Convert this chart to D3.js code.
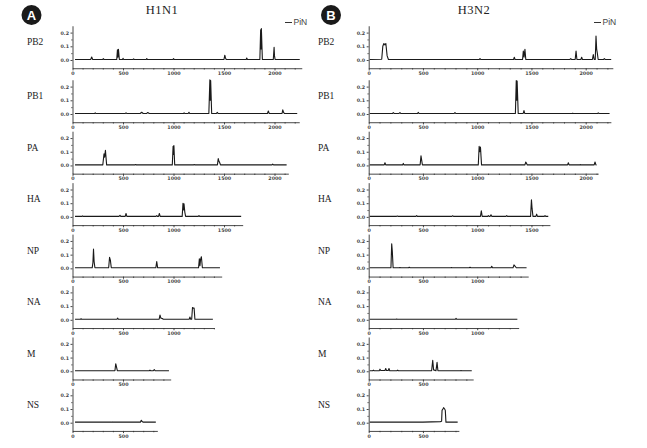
<!DOCTYPE html>
<html>
<head>
<meta charset="utf-8">
<script src="https://cdn.jsdelivr.net/npm/d3@7"></script>
<style>
  body { margin: 0; background: #fff; }
  svg { display: block; }
</style>
</head>
<body>
<svg id="chart" width="647" height="448"></svg>
<script>
// ---------- DATA ----------
const genes = ["PB2", "PB1", "PA", "HA", "NP", "NA", "M", "NS"];
const yTicks = [0, 0.1, 0.2];
const xTickStep = 500;
const xMinorStep = 100;
const legendLabel = "PiN";
const panelTitles = ["H1N1", "H3N2"];
const panelBadges = ["A", "B"];

// segment lengths (x-axis extent) per gene
const h1n1Lengths = [2270, 2245, 2137, 1685, 1477, 1404, 972, 840];
const h3n2Lengths = [2250, 2232, 2115, 1670, 1470, 1382, 963, 831];

// [nucleotide position, PiN value]
const h1n1PB2 = [[25,.004],[180,.004],[190,.022],[200,.004],[300,.004],[305,.01],[312,.004],[438,.004],[445,.075],[450,.02],[455,.078],[464,.004],[495,.004],[500,.012],[507,.004],[600,.004],[605,.008],[612,.004],[730,.004],[735,.01],[742,.004],[995,.004],[1000,.01],[1007,.004],[1500,.004],[1508,.035],[1515,.015],[1522,.004],[1720,.004],[1725,.015],[1732,.004],[1855,.004],[1863,.22],[1867,.08],[1870,.23],[1880,.004],[1988,.004],[1996,.093],[2000,.03],[2006,.004],[2250,.004]];
const h1n1PB1 = [[25,.004],[220,.004],[225,.008],[232,.004],[520,.004],[530,.008],[540,.004],[670,.004],[685,.013],[700,.004],[735,.004],[745,.011],[760,.004],[1100,.004],[1105,.008],[1112,.004],[1145,.004],[1153,.013],[1160,.004],[1350,.004],[1360,.25],[1364,.1],[1368,.245],[1378,.004],[1425,.004],[1434,.012],[1442,.004],[1930,.004],[1939,.022],[1948,.004],[2075,.004],[2082,.03],[2090,.012],[2098,.004],[2225,.004]];
const h1n1PA = [[25,.004],[300,.004],[312,.085],[318,.06],[326,.11],[338,.004],[620,.004],[625,.007],[632,.004],[988,.004],[996,.14],[1000,.08],[1004,.145],[1012,.004],[1200,.004],[1205,.007],[1212,.004],[1435,.004],[1443,.05],[1450,.03],[1458,.02],[1465,.004],[1975,.004],[1982,.01],[1990,.004],[2120,.004]];
const h1n1HA = [[25,.004],[95,.004],[100,.007],[105,.004],[460,.004],[470,.012],[478,.004],[522,.004],[530,.025],[538,.004],[826,.004],[834,.01],[840,.004],[852,.004],[860,.025],[868,.004],[1086,.004],[1094,.1],[1099,.05],[1104,.095],[1112,.035],[1120,.004],[1245,.004],[1252,.01],[1259,.004],[1670,.004]];
const h1n1NP = [[25,.004],[195,.004],[202,.04],[208,.14],[214,.05],[222,.004],[358,.004],[367,.08],[375,.06],[384,.004],[825,.004],[834,.05],[843,.004],[1248,.004],[1256,.07],[1262,.02],[1268,.065],[1276,.085],[1286,.004],[1460,.004]];
const h1n1NA = [[25,.004],[80,.004],[84,.008],[90,.004],[440,.004],[447,.012],[454,.004],[858,.004],[866,.035],[875,.012],[889,.01],[898,.004],[1155,.004],[1163,.02],[1170,.004],[1180,.004],[1188,.09],[1196,.085],[1204,.085],[1212,.004],[1390,.004]];
const h1n1M = [[25,.004],[420,.004],[428,.055],[436,.03],[444,.004],[760,.004],[767,.008],[774,.004],[800,.004],[810,.012],[818,.004],[955,.004]];
const h1n1NS = [[25,.004],[130,.004],[135,.005],[140,.004],[388,.004],[394,.006],[400,.004],[672,.004],[681,.018],[690,.008],[700,.004],[825,.004]];

const h3n2PB2 = [[10,.004],[120,.006],[130,.1],[140,.12],[150,.11],[158,.12],[170,.03],[182,.004],[1020,.004],[1026,.01],[1032,.004],[1335,.004],[1342,.02],[1349,.004],[1418,.004],[1425,.065],[1432,.02],[1440,.078],[1448,.004],[1855,.004],[1862,.01],[1869,.004],[1903,.004],[1911,.065],[1919,.004],[1955,.004],[1963,.02],[1970,.004],[2062,.004],[2070,.04],[2078,.004],[2088,.004],[2095,.175],[2101,.08],[2107,.05],[2115,.004],[2165,.004],[2172,.01],[2179,.004],[2235,.004]];
const h3n2PB1 = [[10,.004],[220,.004],[227,.01],[234,.004],[280,.004],[288,.01],[295,.004],[450,.004],[457,.012],[464,.004],[788,.004],[795,.01],[802,.004],[1352,.004],[1360,.245],[1364,.1],[1368,.24],[1378,.004],[1424,.004],[1431,.025],[1438,.004],[1873,.004],[1880,.006],[1887,.004],[2109,.004],[2116,.008],[2123,.004],[2220,.004]];
const h3n2PA = [[10,.004],[143,.004],[150,.02],[157,.004],[312,.004],[319,.015],[326,.004],[474,.004],[482,.07],[488,.04],[495,.004],[1010,.004],[1018,.14],[1024,.1],[1030,.135],[1040,.004],[1440,.004],[1447,.025],[1455,.015],[1462,.004],[1833,.004],[1840,.02],[1847,.004],[1943,.004],[1950,.006],[1957,.004],[2078,.004],[2086,.025],[2094,.004],[2100,.004]];
const h3n2HA = [[10,.004],[257,.004],[264,.006],[271,.004],[435,.004],[442,.01],[449,.004],[767,.004],[774,.008],[781,.004],[1030,.004],[1038,.045],[1046,.004],[1096,.004],[1103,.01],[1110,.004],[1120,.004],[1127,.015],[1134,.004],[1265,.004],[1272,.01],[1279,.004],[1492,.004],[1500,.125],[1506,.06],[1514,.004],[1541,.004],[1548,.02],[1555,.004],[1618,.004],[1625,.01],[1632,.004],[1655,.004]];
const h3n2NP = [[10,.004],[205,.004],[212,.18],[218,.12],[225,.004],[281,.004],[288,.006],[295,.004],[367,.004],[374,.008],[381,.004],[756,.004],[763,.005],[770,.004],[927,.004],[934,.008],[941,.004],[1127,.004],[1134,.015],[1141,.004],[1330,.004],[1339,.025],[1350,.015],[1360,.004],[1455,.004]];
const h3n2NA = [[10,.004],[251,.004],[258,.006],[265,.004],[798,.004],[805,.01],[812,.004],[1370,.004]];
const h3n2M = [[10,.004],[36,.004],[43,.008],[50,.004],[97,.004],[104,.015],[111,.006],[150,.006],[157,.02],[164,.006],[180,.006],[187,.02],[194,.004],[260,.004],[267,.008],[274,.004],[580,.004],[590,.08],[598,.01],[620,.004],[630,.065],[638,.004],[844,.004],[851,.005],[858,.004],[950,.004]];
const h3n2NS = [[10,.004],[500,.004],[660,.008],[672,.01],[676,.09],[684,.1],[690,.11],[700,.1],[706,.09],[712,.004],[820,.004]];

const h1n1Series = [h1n1PB2, h1n1PB1, h1n1PA, h1n1HA, h1n1NP, h1n1NA, h1n1M, h1n1NS];
const h3n2Series = [h3n2PB2, h3n2PB1, h3n2PA, h3n2HA, h3n2NP, h3n2NA, h3n2M, h3n2NS];

// ---------- LAYOUT ----------
const svg = d3.select("#chart");
const panels = [
  { title: panelTitles[0], badge: panelBadges[0], series: h1n1Series, lengths: h1n1Lengths,
    x0: 72.5, pxPerUnit: 0.101, labelX: 27, titleX: 162, badgeX: 31.5, legendX: 285 },
  { title: panelTitles[1], badge: panelBadges[1], series: h3n2Series, lengths: h3n2Lengths,
    x0: 368.7, pxPerUnit: 0.1085, labelX: 318, titleX: 474, badgeX: 331, legendX: 594 }
];
function zeroY(i) { return i === 0 ? 60 : 114 + (i - 1) * 51.45; }
const pxPerValue = 137;
const yMin = -0.06, yMax = 0.25;

panels.forEach(p => {
  // badge
  svg.append("circle").attr("cx", p.badgeX).attr("cy", 15).attr("r", 10).attr("fill", "#1a1a1a");
  svg.append("text").attr("x", p.badgeX).attr("y", 15).attr("dy", "0.36em")
    .attr("text-anchor", "middle").attr("fill", "#fff")
    .attr("font-family", "Liberation Sans, Arial, sans-serif").attr("font-weight", "bold")
    .attr("font-size", 13).text(p.badge);
  // title
  svg.append("text").attr("x", p.titleX).attr("y", 14).attr("text-anchor", "middle")
    .attr("font-family", "Liberation Serif, Times New Roman, serif").attr("font-size", 12.5)
    .attr("fill", "#222").attr("letter-spacing", 0.5).text(p.title);
  // legend
  svg.append("line").attr("x1", p.legendX).attr("x2", p.legendX + 7)
    .attr("y1", 22.5).attr("y2", 22.5).attr("stroke", "#333").attr("stroke-width", 1);
  svg.append("text").attr("x", p.legendX + 8.5).attr("y", 22.5).attr("dy", "0.35em")
    .attr("font-family", "Liberation Sans, Arial, sans-serif").attr("font-size", 8.5)
    .attr("fill", "#444").text(legendLabel);

  genes.forEach((g, i) => {
    const z = zeroY(i);
    const L = p.lengths[i];
    const x = d3.scaleLinear().domain([0, L]).range([p.x0, p.x0 + L * p.pxPerUnit]);
    const y = d3.scaleLinear().domain([yMin, yMax])
      .range([z - yMin * pxPerValue, z - yMax * pxPerValue]);
    const gRow = svg.append("g");

    // gene label
    gRow.append("text").attr("x", p.labelX).attr("y", z - 18).attr("dy", "0.35em")
      .attr("font-family", "Liberation Serif, Times New Roman, serif").attr("font-size", 9.5)
      .attr("fill", "#222").text(g);

    // x axis
    const majors = d3.range(0, L + 1, xTickStep);
    const minors = d3.range(0, L + 1, xMinorStep).filter(v => v % xTickStep !== 0);
    const xAxis = d3.axisBottom(x).tickValues(majors).tickSize(2.2).tickSizeOuter(0)
      .tickPadding(1).tickFormat(d3.format("d"));
    const ax = gRow.append("g").attr("transform", `translate(0,${y(yMin)})`).call(xAxis);
    const axm = gRow.append("g").attr("transform", `translate(0,${y(yMin)})`)
      .call(d3.axisBottom(x).tickValues(minors).tickSize(1.3).tickSizeOuter(0).tickFormat(""));
    axm.select(".domain").remove();
    [ax, axm].forEach(a => {
      a.selectAll("path,line").attr("stroke", "#333").attr("stroke-width", 0.9);
    });
    ax.selectAll("text").attr("font-family", "DejaVu Sans, sans-serif").attr("font-size", 4.8)
      .attr("font-weight", "bold").attr("fill", "#444");

    // y axis
    const yAxis = d3.axisLeft(y).tickValues(yTicks).tickSize(2).tickSizeOuter(0)
      .tickPadding(1.5).tickFormat(d3.format(".1f"));
    const ay = gRow.append("g").attr("transform", `translate(${p.x0},0)`).call(yAxis);
    const aym = gRow.append("g").attr("transform", `translate(${p.x0},0)`)
      .call(d3.axisLeft(y).tickValues([0.05, 0.15]).tickSize(1.2).tickSizeOuter(0).tickFormat(""));
    aym.select(".domain").remove();
    [ay, aym].forEach(a => {
      a.selectAll("path,line").attr("stroke", "#333").attr("stroke-width", 0.9);
    });
    ay.selectAll("text").attr("font-family", "DejaVu Sans, sans-serif").attr("font-size", 4.8)
      .attr("font-weight", "bold").attr("fill", "#444");

    // data line
    const line = d3.line().x(d => x(d[0])).y(d => y(d[1]));
    gRow.append("path").datum(p.series[i]).attr("d", line)
      .attr("fill", "none").attr("stroke", "#1a1a1a").attr("stroke-width", 1.1)
      .attr("stroke-linejoin", "round");
  });
});
</script>
</body>
</html>
